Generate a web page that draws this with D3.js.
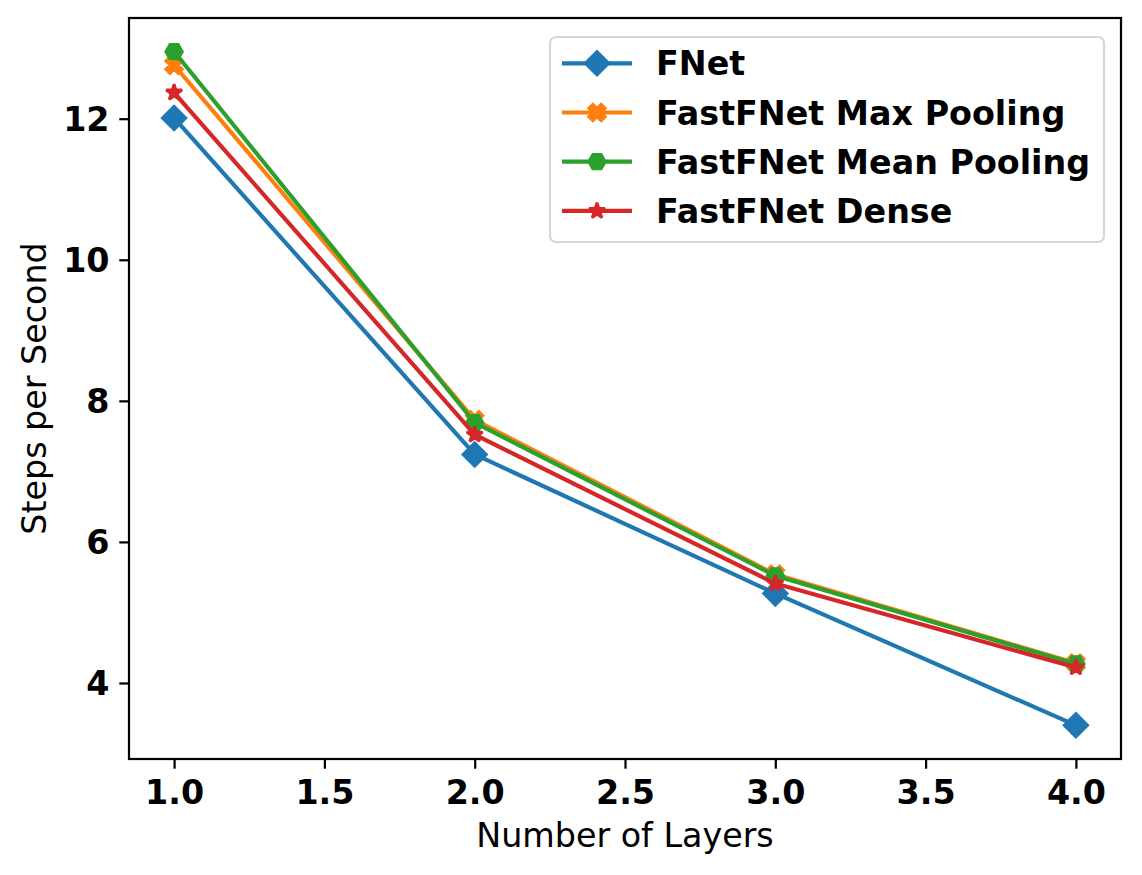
<!DOCTYPE html>
<html>
<head>
<meta charset="utf-8">
<script src="https://cdn.jsdelivr.net/npm/d3@7"></script>
<style>
  html, body { margin: 0; padding: 0; background: #fff; }
  svg { display: block; }
  text { font-family: "DejaVu Sans", sans-serif; }
</style>
</head>
<body>
<div id="chart"></div>
<script>
// ---- data ----
const layers = [1, 2, 3, 4];
const seriesNames = ["FNet", "FastFNet Max Pooling", "FastFNet Mean Pooling", "FastFNet Dense"];
const fnet = [12.01, 7.24, 5.27, 3.40];
const maxPooling = [12.76, 7.73, 5.54, 4.28];
const meanPooling = [12.95, 7.69, 5.52, 4.27];
const dense = [12.37, 7.52, 5.41, 4.22];
const xTicks = [1.0, 1.5, 2.0, 2.5, 3.0, 3.5, 4.0];
const yTicks = [4, 6, 8, 10, 12];
const xLabel = "Number of Layers";
const yLabel = "Steps per Second";

const colors = ["#1f77b4", "#ff7f0e", "#2ca02c", "#d62728"];
const markerKinds = ["diamond", "xfilled", "hexagon", "star"];
const markerJoins = ["miter", "miter", "miter", "bevel"];
const seriesValues = [fnet, maxPooling, meanPooling, dense];

// ---- layout ----
const W = 1142, H = 875;
const plot = { left: 129, right: 1121, top: 18, bottom: 759 };
const PT = 200 / 72;               // px per point
const fs = 12 * PT;                // font size
const msize = 6 * PT;              // marker size
const lw = 1.5 * PT;               // line width
const mew = 1.0 * PT;              // marker edge width

const svg = d3.select("#chart").append("svg").attr("width", W).attr("height", H);

// scales with 5% margins like matplotlib
const xExt = d3.extent(layers);
const xPad = (xExt[1] - xExt[0]) * 0.05;
const allY = seriesValues.flat();
const yExt = d3.extent(allY);
const yPad = (yExt[1] - yExt[0]) * 0.05;
const x = d3.scaleLinear().domain([xExt[0] - xPad, xExt[1] + xPad]).range([plot.left, plot.right]);
const y = d3.scaleLinear().domain([yExt[0] - yPad, yExt[1] + yPad]).range([plot.bottom, plot.top]);

// marker shape generators (shapes only)
function markerPath(kind, s) {
  const pts = [];
  if (kind === "diamond") {
    const r = s * Math.SQRT1_2;
    pts.push([0, -r], [r, 0], [0, r], [-r, 0]);
  } else if (kind === "hexagon") {
    const r = s / 2;
    for (let i = 0; i < 6; i++) {
      const a = i * Math.PI / 3;
      pts.push([r * Math.cos(a), r * Math.sin(a)]);
    }
  } else if (kind === "star") {
    const R = s / 2, rIn = R * 0.381966;
    for (let i = 0; i < 10; i++) {
      const a = -Math.PI / 2 + i * Math.PI / 5;
      const rr = i % 2 === 0 ? R : rIn;
      pts.push([rr * Math.cos(a), rr * Math.sin(a)]);
    }
  } else if (kind === "xfilled") {
    const base = [[-1, -2], [0, -1], [1, -2], [2, -1], [1, 0], [2, 1], [1, 2], [0, 1], [-1, 2], [-2, 1], [-1, 0], [-2, -1]];
    base.forEach(p => pts.push([p[0] / 4 * s, p[1] / 4 * s]));
  }
  return "M" + pts.map(p => p[0].toFixed(2) + "," + p[1].toFixed(2)).join("L") + "Z";
}

// ---- lines & markers ----
const line = d3.line().x((d, i) => x(layers[i])).y(d => y(d));
seriesValues.forEach((vals, si) => {
  const g = svg.append("g");
  g.append("path")
    .attr("d", line(vals))
    .attr("fill", "none")
    .attr("stroke", colors[si])
    .attr("stroke-width", lw)
    .attr("stroke-linejoin", "round")
    .attr("stroke-linecap", "square");
  g.selectAll("path.m").data(vals).enter().append("path")
    .attr("class", "m")
    .attr("d", markerPath(markerKinds[si], msize))
    .attr("transform", (d, i) => `translate(${x(layers[i])},${y(d)})`)
    .attr("fill", colors[si])
    .attr("stroke", colors[si])
    .attr("stroke-width", mew)
    .attr("stroke-linejoin", markerJoins[si]);
});

// ---- axes ----
const tickLen = 3.5 * PT;
const xAxis = d3.axisBottom(x).tickValues(xTicks).tickFormat(d3.format(".1f"))
  .tickSize(tickLen).tickSizeOuter(0).tickPadding(3.5 * PT + 1.5);
const yAxis = d3.axisLeft(y).tickValues(yTicks).tickFormat(d3.format("d"))
  .tickSize(tickLen).tickSizeOuter(0).tickPadding(3.5 * PT);

const gx = svg.append("g").attr("transform", `translate(0,${plot.bottom})`).call(xAxis);
const gy = svg.append("g").attr("transform", `translate(${plot.left},0)`).call(yAxis);
[gx, gy].forEach(g => {
  g.select(".domain").remove();
  g.selectAll(".tick line").attr("stroke", "#000").attr("stroke-width", 0.8 * PT);
  g.selectAll(".tick text").attr("fill", "#000")
    .style("font-family", '"DejaVu Sans", sans-serif')
    .style("font-size", fs + "px").style("font-weight", "bold");
});
gy.selectAll(".tick text").attr("dy", "0.36em");

// frame
svg.append("rect")
  .attr("x", plot.left).attr("y", plot.top)
  .attr("width", plot.right - plot.left).attr("height", plot.bottom - plot.top)
  .attr("fill", "none").attr("stroke", "#000").attr("stroke-width", 0.8 * PT);

// axis labels
svg.append("text")
  .attr("x", (plot.left + plot.right) / 2).attr("y", 846.5)
  .attr("text-anchor", "middle")
  .style("font-size", fs + "px")
  .text(xLabel);
svg.append("text")
  .attr("transform", `translate(46,${(plot.top + plot.bottom) / 2}) rotate(-90)`)
  .attr("text-anchor", "middle")
  .style("font-size", fs + "px")
  .text(yLabel);

// ---- legend ----
const leg = { left: 550, top: 37, width: 554, height: 205 };
svg.append("rect")
  .attr("x", leg.left).attr("y", leg.top)
  .attr("width", leg.width).attr("height", leg.height)
  .attr("rx", 6).attr("ry", 6)
  .attr("fill", "#fff").attr("fill-opacity", 0.8)
  .attr("stroke", "#d6d6d6").attr("stroke-width", 2.2);

const rowY0 = 63.3, rowGap = 49.2;
seriesNames.forEach((name, si) => {
  const cy = rowY0 + si * rowGap;
  const g = svg.append("g");
  g.append("line")
    .attr("x1", 562).attr("x2", 632).attr("y1", cy).attr("y2", cy)
    .attr("stroke", colors[si]).attr("stroke-width", lw);
  g.append("path")
    .attr("d", markerPath(markerKinds[si], msize))
    .attr("transform", `translate(597,${cy})`)
    .attr("fill", colors[si]).attr("stroke", colors[si]).attr("stroke-width", mew)
    .attr("stroke-linejoin", markerJoins[si]);
  g.append("text")
    .attr("x", 656).attr("y", cy + 12)
    .style("font-size", fs + "px").style("font-weight", "bold")
    .text(name);
});
</script>
</body>
</html>
